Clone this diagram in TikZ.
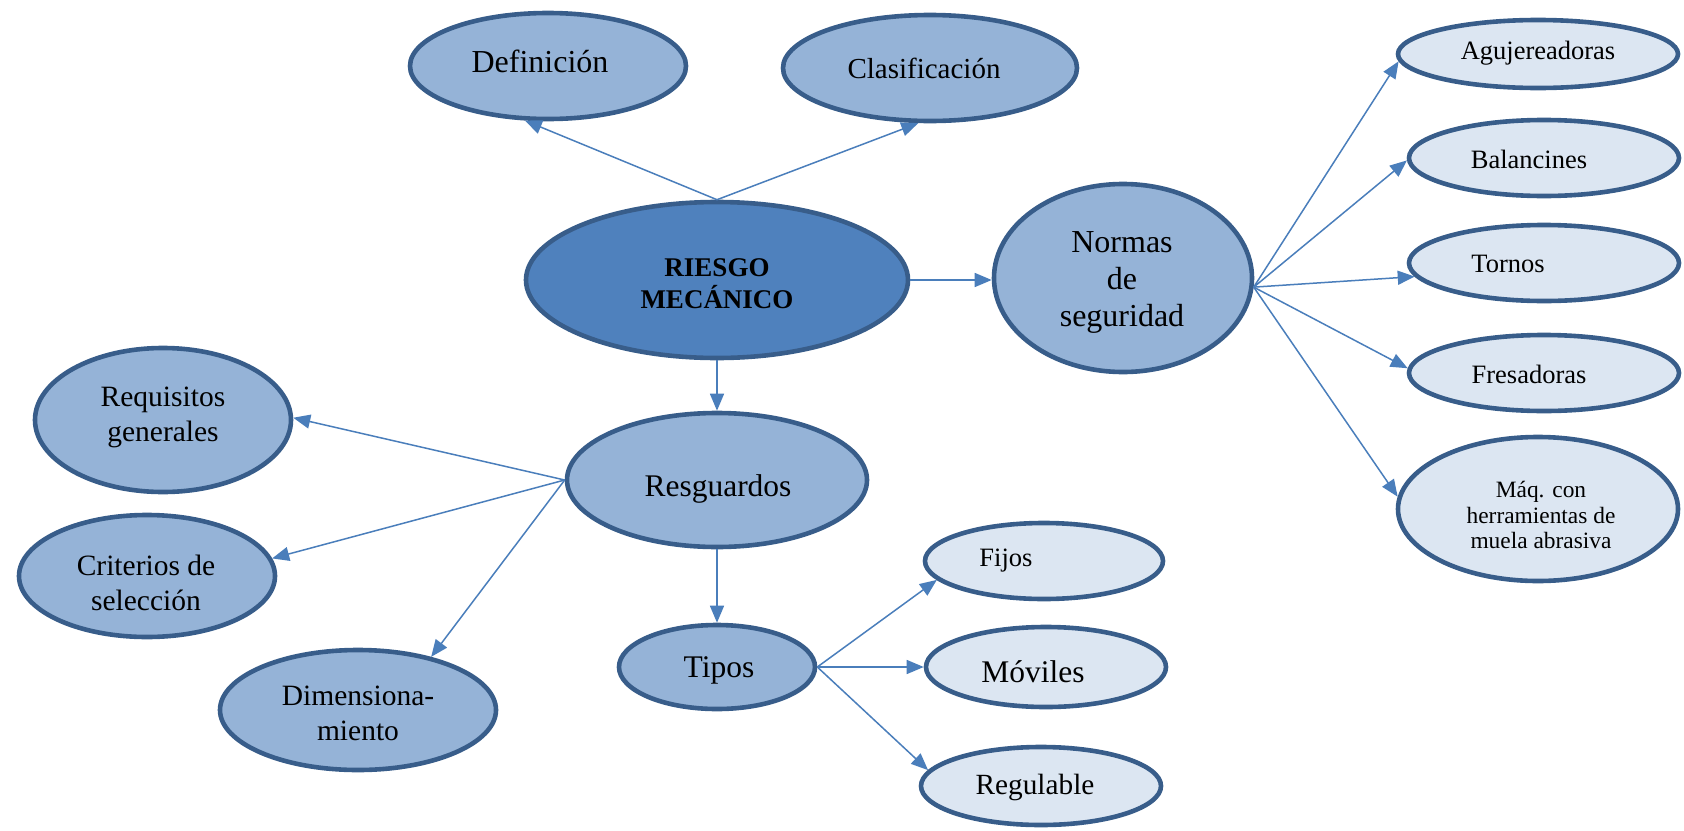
\documentclass[tikz,border=0pt]{standalone}
\usepackage{fontspec}
\setmainfont{Liberation Serif}
\usetikzlibrary{shapes.geometric,arrows.meta}
\definecolor{cdark}{HTML}{4F81BD}
\definecolor{cmid}{HTML}{95B3D7}
\definecolor{clight}{HTML}{DCE6F2}
\definecolor{cborder}{HTML}{385D8A}
\definecolor{carrow}{HTML}{4A7EBB}
\begin{document}
\begin{tikzpicture}[x=1pt,y=-1pt,
  ell/.style={ellipse, draw=cborder, line width=4.6pt, inner sep=0pt},
  dk/.style={ell, fill=cdark},
  md/.style={ell, fill=cmid},
  lt/.style={ell, fill=clight},
  lbl/.style={align=center, inner sep=0pt, text=black},
  arr/.style={draw=carrow, line width=1.5pt, -{Triangle[length=17pt,width=14pt]}}
]
\useasboundingbox (0,0) rectangle (1684,830);

% ellipses
\node[md, minimum width=276pt, minimum height=106pt] (def) at (548,66) {};
\node[md, minimum width=294pt, minimum height=106pt] (cla) at (930,68) {};
\node[dk, minimum width=382pt, minimum height=156pt] (ries) at (717,280) {};
\node[md, minimum width=258pt, minimum height=188pt] (norm) at (1123,278) {};
\node[lt, minimum width=280pt, minimum height=68pt] (agu) at (1538,54) {};
\node[lt, minimum width=270pt, minimum height=76pt] (bal) at (1544,158) {};
\node[lt, minimum width=270pt, minimum height=76pt] (tor) at (1544,263) {};
\node[lt, minimum width=270pt, minimum height=76pt] (fre) at (1544,373) {};
\node[lt, minimum width=280pt, minimum height=144pt] (maq) at (1538,509) {};
\node[md, minimum width=256pt, minimum height=144pt] (req) at (163,420) {};
\node[md, minimum width=256pt, minimum height=122pt] (cri) at (147,576) {};
\node[md, minimum width=276pt, minimum height=120pt] (dim) at (358,710) {};
\node[md, minimum width=300pt, minimum height=134pt] (res) at (717,480) {};
\node[md, minimum width=196pt, minimum height=84pt] (tip) at (717,667) {};
\node[lt, minimum width=238pt, minimum height=76pt] (fij) at (1044,561) {};
\node[lt, minimum width=240pt, minimum height=80pt] (mov) at (1046,667) {};
\node[lt, minimum width=240pt, minimum height=78pt] (reg) at (1041,786) {};

% connectors
\draw[arr] (ries.north) -- (def.247);
\draw[arr] (ries.north) -- (cla.258);
\draw[arr] (ries.east) -- (ries.east -| norm.west);
\draw[arr] (ries.south) -- (res.north);
\draw[arr] (res.west) -- (req.1);
\draw[arr] (res.west) -- (cri.8);
\draw[arr] (res.west) -- (dim.36);
\draw[arr] (res.south) -- (tip.north);
\draw[arr] (tip.east) -- (fij.190);
\draw[arr] (tip.east) -- (mov.west);
\draw[arr] (tip.east) -- (reg.172);
\draw[arr] (norm.-4) -- (agu.183);
\draw[arr] (norm.-4) -- (bal.181);
\draw[arr] (norm.-4) -- (tor.186);
\draw[arr] (norm.-4) -- (fre.178);
\draw[arr] (norm.-4) -- (maq.175);

% texts
\node[lbl, font=\fontsize{32}{37}\selectfont] (tdef) at (540,61) {Definición};
\node[lbl, font=\fontsize{29}{34}\selectfont] (tcla) at (924,68) {Clasificación};
\node[lbl, font=\fontsize{27}{32}\selectfont\bfseries] (tries) at (717,284) {RIESGO\\MECÁNICO};
\node[lbl, font=\fontsize{32}{37}\selectfont] (tnorm) at (1122,282) {Normas\\de\\seguridad};
\node[lbl, font=\fontsize{26.5}{30}\selectfont] (tagu) at (1538,53) {Agujereadoras};
\node[lbl, font=\fontsize{26.5}{30}\selectfont] (tbal) at (1529,159) {Balancines};
\node[lbl, font=\fontsize{26.5}{30}\selectfont] (ttor) at (1508,264) {Tornos};
\node[lbl, font=\fontsize{26.5}{30}\selectfont] (tfre) at (1529,374) {Fresadoras};
\node[lbl, font=\fontsize{23.4}{25.5}\selectfont] (tmaq) at (1541,515) {Máq. con\\herramientas de\\muela abrasiva};
\node[lbl, font=\fontsize{29.5}{35}\selectfont] (treq) at (163,417) {Requisitos\\generales};
\node[lbl, font=\fontsize{29.5}{35}\selectfont] (tcri) at (146,583) {Criterios de\\selección};
\node[lbl, font=\fontsize{29.5}{35}\selectfont] (tdim) at (358,713) {Dimensiona-\\miento};
\node[lbl, font=\fontsize{31.5}{36}\selectfont] (tres) at (718,489) {Resguardos};
\node[lbl, font=\fontsize{31.5}{36}\selectfont] (ttip) at (719,670) {Tipos};
\node[lbl, font=\fontsize{26.5}{30}\selectfont] (tfij) at (1006,561) {Fijos};
\node[lbl, font=\fontsize{31.5}{36}\selectfont] (tmov) at (1033,672) {Móviles};
\node[lbl, font=\fontsize{29.3}{34}\selectfont] (treg) at (1035,787) {Regulable};
\end{tikzpicture}
\end{document}
